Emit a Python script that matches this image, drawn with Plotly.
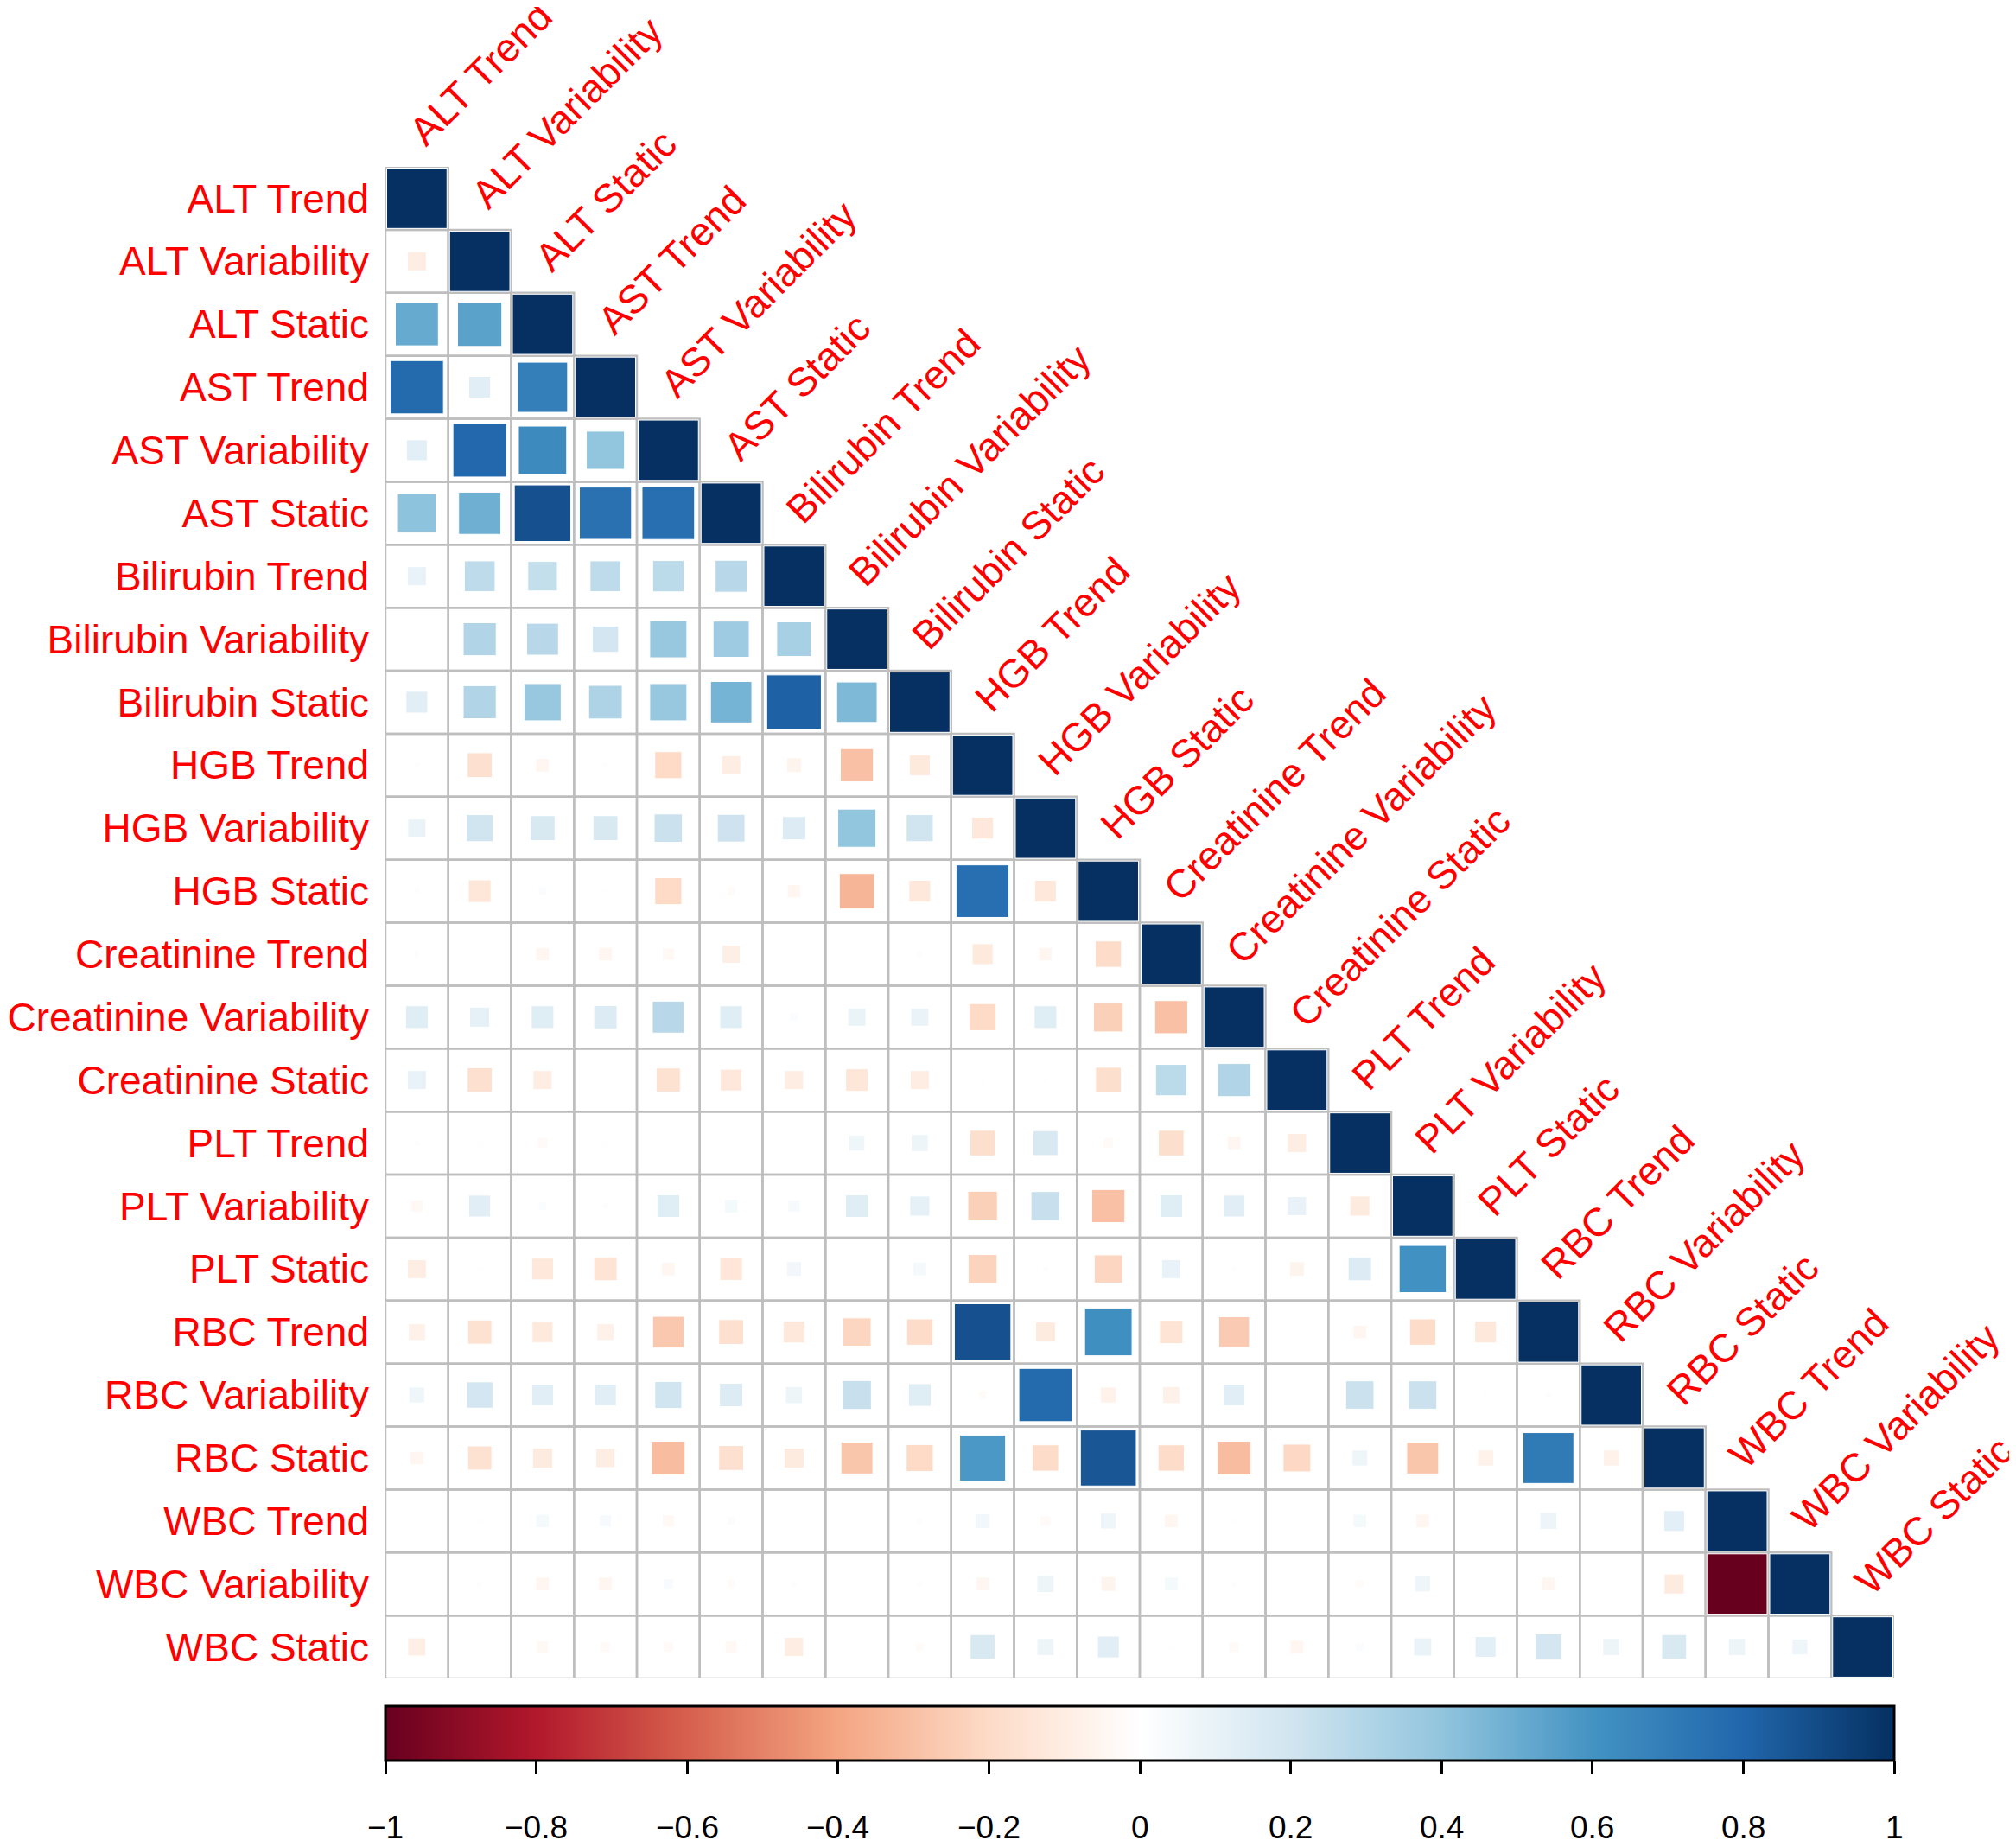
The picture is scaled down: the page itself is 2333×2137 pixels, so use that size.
import numpy as np
import plotly.graph_objects as go

LABELS = [
    "ALT Trend", "ALT Variability", "ALT Static",
    "AST Trend", "AST Variability", "AST Static",
    "Bilirubin Trend", "Bilirubin Variability", "Bilirubin Static",
    "HGB Trend", "HGB Variability", "HGB Static",
    "Creatinine Trend", "Creatinine Variability", "Creatinine Static",
    "PLT Trend", "PLT Variability", "PLT Static",
    "RBC Trend", "RBC Variability", "RBC Static",
    "WBC Trend", "WBC Variability", "WBC Static",
]

# lower triangle, row i holds correlations with columns 0..i-1 (diagonal is 1)
ROW_ALT_VAR = [-0.10]
ROW_ALT_STA = [0.51, 0.54]
ROW_AST_TRE = [0.78, 0.13, 0.69]
ROW_AST_VAR = [0.12, 0.79, 0.64, 0.40]
ROW_AST_STA = [0.41, 0.49, 0.88, 0.75, 0.76]
ROW_BIL_TRE = [0.10, 0.26, 0.24, 0.26, 0.27, 0.28]
ROW_BIL_VAR = [0.00, 0.30, 0.28, 0.19, 0.38, 0.36, 0.33]
ROW_BIL_STA = [0.13, 0.30, 0.38, 0.31, 0.38, 0.47, 0.82, 0.45]
ROW_HGB_TRE = [-0.01, -0.17, -0.05, -0.01, -0.20, -0.10, -0.06, -0.30, -0.12]
ROW_HGB_VAR = [0.09, 0.20, 0.17, 0.17, 0.22, 0.21, 0.15, 0.40, 0.20, -0.13]
ROW_HGB_STA = [-0.01, -0.14, 0.02, 0.01, -0.20, -0.02, -0.05, -0.34, -0.13, 0.76, -0.13]
ROW_CRE_TRE = [-0.01, -0.005, -0.05, -0.05, -0.04, -0.09, 0.00, 0.00, -0.01, -0.12, -0.05,
               -0.19]
ROW_CRE_VAR = [0.14, 0.11, 0.14, 0.15, 0.28, 0.14, 0.02, 0.09, 0.09, -0.20, 0.14, -0.24,
               -0.30]
ROW_CRE_STA = [0.10, -0.17, -0.10, 0.00, -0.16, -0.13, -0.10, -0.14, -0.10, 0.01, 0.01, -0.18,
               0.27, 0.30]
ROW_PLT_TRE = [-0.01, 0.01, -0.03, 0.01, 0.00, 0.00, 0.00, 0.07, 0.08, -0.18, 0.17, -0.03,
               -0.18, -0.05, -0.10]
ROW_PLT_VAR = [-0.04, 0.13, 0.02, -0.01, 0.14, 0.05, 0.04, 0.14, 0.11, -0.24, 0.23, -0.30,
               0.14, 0.13, 0.10, -0.11]
ROW_PLT_STA = [-0.10, 0.01, -0.13, -0.15, -0.05, -0.14, 0.06, 0.00, 0.05, -0.23, -0.01, -0.22,
               0.10, -0.01, -0.06, 0.15, 0.61]
ROW_RBC_TRE = [-0.08, -0.16, -0.12, -0.08, -0.27, -0.17, -0.13, -0.22, -0.19, 0.88, -0.11, 0.62,
               -0.15, -0.26, 0.00, -0.05, -0.19, -0.13]
ROW_RBC_VAR = [0.07, 0.19, 0.13, 0.13, 0.20, 0.15, 0.08, 0.23, 0.14, -0.02, 0.78, -0.07,
               -0.08, 0.13, 0.00, 0.22, 0.22, 0.01, -0.01]
ROW_RBC_STA = [-0.05, -0.16, -0.11, -0.10, -0.31, -0.17, -0.11, -0.28, -0.20, 0.58, -0.19, 0.86,
               -0.19, -0.31, -0.21, 0.07, -0.28, -0.07, 0.71, -0.07]
ROW_WBC_TRE = [0.00, 0.01, 0.05, 0.04, -0.04, 0.02, 0.00, 0.00, -0.01, 0.06, -0.03, 0.07,
               -0.05, 0.01, 0.00, 0.05, -0.05, 0.01, 0.08, 0.01, 0.12]
ROW_WBC_VAR = [0.00, -0.01, -0.05, -0.05, 0.03, -0.02, -0.01, 0.00, -0.01, -0.05, 0.08, -0.06,
               0.05, -0.01, 0.00, -0.02, 0.07, 0.00, -0.05, 0.00, -0.11, -1.00]
ROW_WBC_STA = [-0.09, 0.00, -0.04, -0.03, -0.03, -0.04, -0.10, 0.00, -0.02, 0.17, 0.08, 0.13,
               0.01, -0.03, -0.05, 0.02, 0.09, 0.12, 0.19, 0.08, 0.17, 0.08, 0.07]

LOWER = [
    [], ROW_ALT_VAR, ROW_ALT_STA, ROW_AST_TRE, ROW_AST_VAR, ROW_AST_STA,
    ROW_BIL_TRE, ROW_BIL_VAR, ROW_BIL_STA, ROW_HGB_TRE, ROW_HGB_VAR, ROW_HGB_STA,
    ROW_CRE_TRE, ROW_CRE_VAR, ROW_CRE_STA, ROW_PLT_TRE, ROW_PLT_VAR, ROW_PLT_STA,
    ROW_RBC_TRE, ROW_RBC_VAR, ROW_RBC_STA, ROW_WBC_TRE, ROW_WBC_VAR, ROW_WBC_STA,
]

TICK_VALS = [-1, -0.8, -0.6, -0.4, -0.2, 0, 0.2, 0.4, 0.6, 0.8, 1]
TICK_TEXT = ["\u22121", "\u22120.8", "\u22120.6", "\u22120.4", "\u22120.2", "0",
             "0.2", "0.4", "0.6", "0.8", "1"]

# corrplot COL2("RdBu")
RDBU = ["#67001F", "#B2182B", "#D6604D", "#F4A582", "#FDDBC7", "#FFFFFF",
        "#D1E5F0", "#92C5DE", "#4393C3", "#2166AC", "#053061"]
COLORSCALE = [[k / (len(RDBU) - 1), c] for k, c in enumerate(RDBU)]

# page body has an 8px margin, so the figure is 16px smaller than the window
W, H = 2317, 2121
ML, MR, MT, MB = 438, 133, 185, 187
N = len(LABELS)
CELL = (W - ML - MR) / N
PLOT_H = H - MT - MB
FONT = "Liberation Sans, Arial, sans-serif"

xs, ys, rs = [], [], []
for i, row in enumerate(LOWER):
    for j, r in enumerate(list(row) + [1.0]):
        xs.append(j)
        ys.append(i)
        rs.append(r)
rs = np.array(rs)
sizes = np.sqrt(np.abs(rs)) * (CELL - 3)

fig = go.Figure()
fig.add_trace(
    go.Scatter(
        x=xs,
        y=ys,
        mode="markers",
        marker=dict(
            symbol="square",
            size=sizes,
            opacity=1,
            color=rs,
            colorscale=COLORSCALE,
            cmin=-1,
            cmax=1,
            line=dict(width=1, color="white"),
            colorbar=dict(
                orientation="h",
                x=0.5,
                xanchor="center",
                y=-32 / PLOT_H,
                yanchor="top",
                len=1,
                lenmode="fraction",
                thickness=63,
                xpad=0,
                ypad=0,
                outlinewidth=3,
                outlinecolor="black",
                ticks="outside",
                ticklen=14,
                tickwidth=2.5,
                tickcolor="black",
                tickvals=TICK_VALS,
                showticklabels=False,
            ),
        ),
        hoverinfo="skip",
        showlegend=False,
    )
)

# grid of the lower triangle
shapes = []
for i in range(N):
    for j in range(i + 1):
        shapes.append(
            dict(
                type="rect", xref="x", yref="y",
                x0=j - 0.5, x1=j + 0.5, y0=i - 0.5, y1=i + 0.5,
                line=dict(color="#BEBEBE", width=2.5),
                layer="below",
            )
        )

annotations = []
for j, name in enumerate(LABELS):
    annotations.append(
        dict(
            x=j, y=j - 0.5, xref="x", yref="y",
            text=name, showarrow=False, textangle=-45,
            xanchor="left", yanchor="bottom", xshift=-22, yshift=12,
            font=dict(family=FONT, size=46, color="#FF0000"),
        )
    )
for v, t in zip(TICK_VALS, TICK_TEXT):
    annotations.append(
        dict(
            x=-0.5 + (v + 1) / 2 * N, y=-172 / PLOT_H, xref="x", yref="paper",
            text=t, showarrow=False, xanchor="center", yanchor="middle",
            font=dict(family=FONT, size=37, color="black"),
        )
    )

fig.update_layout(
    width=W,
    height=H,
    margin=dict(l=ML, r=MR, t=MT, b=MB, pad=0, autoexpand=False),
    paper_bgcolor="white",
    plot_bgcolor="white",
    shapes=shapes,
    annotations=annotations,
    xaxis=dict(
        range=[-0.5, N - 0.5], showgrid=False, zeroline=False,
        showticklabels=False, showline=False, fixedrange=True, automargin=False,
    ),
    yaxis=dict(
        range=[N - 0.5, -0.5], showgrid=False, zeroline=False, showline=False,
        tickmode="array", tickvals=list(range(N)), ticktext=LABELS, ticks="",
        ticklabelstandoff=18, automargin=False,
        tickfont=dict(family=FONT, size=46, color="#FF0000"),
    ),
)

fig.write_html("out.html")
